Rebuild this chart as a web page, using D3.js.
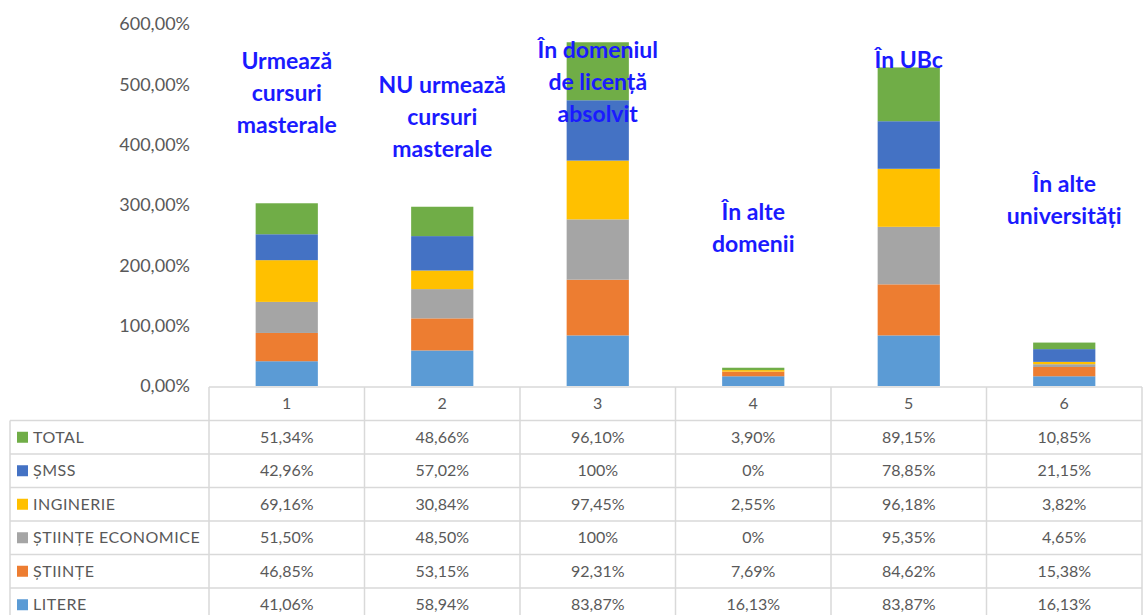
<!DOCTYPE html>
<html>
<head>
<meta charset="utf-8">
<script src="https://cdn.jsdelivr.net/npm/d3@7"></script>
<style>
  body { margin: 0; background: #fff; }
  svg { display: block; font-family: Lato, "Open Sans", sans-serif; }
</style>
</head>
<body>
<svg id="chart" width="1143" height="615"></svg>
<script>
// categories on the x axis / table columns
const categories = ['1', '2', '3', '4', '5', '6'];

// series, bottom of the stack first
const seriesNames = ['LITERE', 'ȘTIINȚE', 'ȘTIINȚE ECONOMICE', 'INGINERIE', 'ȘMSS', 'TOTAL'];
const seriesColors = ['#5b9bd5', '#ed7d31', '#a5a5a5', '#ffc000', '#4472c4', '#70ad47'];

const litere = [41.06, 58.94, 83.87, 16.13, 83.87, 16.13];
const stiinte = [46.85, 53.15, 92.31, 7.69, 84.62, 15.38];
const economice = [51.50, 48.50, 100, 0, 95.35, 4.65];
const inginerie = [69.16, 30.84, 97.45, 2.55, 96.18, 3.82];
const smss = [42.96, 57.02, 100, 0, 78.85, 21.15];
const total = [51.34, 48.66, 96.10, 3.90, 89.15, 10.85];

const yTicks = [0, 100, 200, 300, 400, 500, 600];

// blue notes written above the bars
const notes = [
    ['Urmează', 'cursuri', 'masterale'],
    ['NU urmează', 'cursuri', 'masterale'],
    ['În domeniul', 'de licență', 'absolvit'],
    ['În alte', 'domenii'],
    ['În UBc'],
    ['În alte', 'universități'],
];
const noteTop = [61, 85, 50, 212, 60, 184];

const seriesValues = [litere, stiinte, economice, inginerie, smss, total];

const rows = categories.map((c, i) => {
    const r = { cat: c };
    seriesNames.forEach((s, j) => { r[s] = seriesValues[j][i]; });
    return r;
});

const svg = d3.select('#chart');
const left = 209, right = 1142, tableTop = 387, rowH = 33.5;
const textColor = '#595959';
const gridColor = '#d9d9d9';

const x = d3.scaleBand().domain(categories).range([left, right]).padding(0);
const y = d3.scaleLinear().domain([0, 600]).range([386, 24]);

const fmt = v => Number.isInteger(v) ? v + '%' : v.toFixed(2).replace('.', ',') + '%';

// y axis labels
svg.append('g')
    .selectAll('text')
    .data(yTicks)
    .enter()
    .append('text')
    .attr('x', 190)
    .attr('y', d => y(d))
    .attr('dy', '0.35em')
    .attr('text-anchor', 'end')
    .attr('font-size', 18)
    .attr('fill', textColor)
    .text(d => d.toFixed(2).replace('.', ',') + '%');

// stacked bars
const stack = d3.stack().keys(seriesNames)(rows);
const bw = x.bandwidth() * 0.4;
svg.append('g')
    .selectAll('g')
    .data(stack)
    .enter()
    .append('g')
    .attr('fill', (d, i) => seriesColors[i])
    .selectAll('rect')
    .data(d => d)
    .enter()
    .append('rect')
    .attr('x', d => x(d.data.cat) + (x.bandwidth() - bw) / 2)
    .attr('width', bw)
    .attr('y', d => y(d[1]))
    .attr('height', d => y(d[0]) - y(d[1]));

// notes
const noteG = svg.append('g');
notes.forEach((lines, i) => {
    noteG.append('text')
        .attr('text-anchor', 'middle')
        .attr('font-size', 23)
        .attr('font-weight', 'bold')
        .attr('fill', '#1a1aff')
        .selectAll('tspan')
        .data(lines)
        .enter()
        .append('tspan')
        .attr('x', x(categories[i]) + x.bandwidth() / 2)
        .attr('y', (d, k) => noteTop[i] + k * 32)
        .attr('dy', '0.35em')
        .text(d => d);
});

// data table
const table = svg.append('g');
const tableRows = seriesNames.slice().reverse();
const bottom = tableTop + rowH * (tableRows.length + 1);

table.append('line')
    .attr('x1', left).attr('x2', right)
    .attr('y1', tableTop).attr('y2', tableTop);
tableRows.forEach((s, k) => {
    table.append('line')
        .attr('x1', 10).attr('x2', right)
        .attr('y1', tableTop + rowH * (k + 1)).attr('y2', tableTop + rowH * (k + 1));
});
table.append('line')
    .attr('x1', 10).attr('x2', 10)
    .attr('y1', tableTop + rowH).attr('y2', bottom);
categories.concat(['end']).forEach((c, i) => {
    const xx = c === 'end' ? right : x(c);
    table.append('line')
        .attr('x1', xx).attr('x2', xx)
        .attr('y1', tableTop).attr('y2', bottom);
});
table.selectAll('line')
    .attr('stroke', gridColor)
    .attr('stroke-width', 1.5);

// column headers
table.selectAll('.head')
    .data(categories)
    .enter()
    .append('text')
    .attr('x', d => x(d) + x.bandwidth() / 2)
    .attr('y', tableTop + rowH / 2)
    .attr('dy', '0.35em')
    .attr('text-anchor', 'middle')
    .attr('font-size', 16)
    .attr('fill', textColor)
    .text(d => d);

tableRows.forEach((s, k) => {
    const cy = tableTop + rowH * (k + 1.5);
    const idx = seriesNames.indexOf(s);
    table.append('rect')
        .attr('x', 17).attr('y', cy - 5.5)
        .attr('width', 11).attr('height', 11)
        .attr('fill', seriesColors[idx]);
    table.append('text')
        .attr('x', 33).attr('y', cy)
        .attr('dy', '0.35em')
        .attr('font-size', 16)
        .attr('letter-spacing', 0.5)
        .attr('fill', textColor)
        .text(s);
    table.append('g')
        .selectAll('text')
        .data(rows)
        .enter()
        .append('text')
        .attr('x', d => x(d.cat) + x.bandwidth() / 2)
        .attr('y', cy)
        .attr('dy', '0.35em')
        .attr('text-anchor', 'middle')
        .attr('font-size', 16)
        .attr('fill', textColor)
        .text(d => fmt(d[s]));
});
</script>
</body>
</html>
